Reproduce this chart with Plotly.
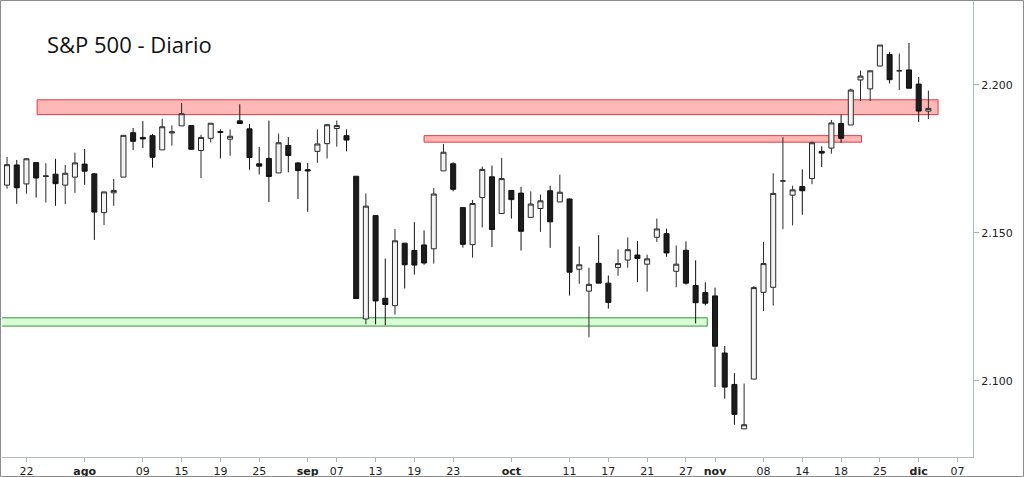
import pandas as pd
import plotly.graph_objects as go

# ---- Data -------------------------------------------------------------
holidays = ["2016-09-05", "2016-11-24"]
calendar = [d for d in pd.bdate_range("2016-07-20", "2016-12-09").strftime("%Y-%m-%d") if d not in holidays]

open_ = [2166.1, 2172.9, 2166.5, 2173.7, 2169.0, 2169.8, 2166.1, 2168.8, 2173.2, 2169.9,
         2156.8, 2163.5, 2168.8, 2183.8, 2182.2, 2182.8, 2178.0, 2183.7, 2186.1, 2186.2,
         2177.8, 2181.9, 2184.2, 2181.6, 2187.8, 2185.1, 2173.3, 2175.1, 2170.2, 2179.5,
         2173.6, 2171.3, 2177.5, 2180.1, 2185.2, 2182.8, 2169.1, 2120.9, 2155.8, 2127.9,
         2125.4, 2146.5, 2144.0, 2145.9, 2144.6, 2170.9, 2173.3, 2158.5, 2146.0, 2161.9,
         2168.9, 2156.5, 2164.3, 2163.4, 2155.2, 2158.2, 2164.2, 2160.4, 2161.4, 2137.7,
         2130.3, 2139.7, 2133.0, 2138.3, 2140.8, 2142.5, 2139.4, 2148.5, 2149.7, 2137.0,
         2144.1, 2132.2, 2129.8, 2128.7, 2109.4, 2098.8, 2083.8, 2100.6, 2129.9, 2131.6,
         2167.5, 2162.7, 2165.6, 2168.3, 2177.5, 2178.6, 2186.9, 2186.4, 2201.6, 2198.6,
         2206.3, 2210.2, 2204.7, 2205.0, 2200.2, 2191.1]
high = [2175.6, 2174.6, 2175.1, 2173.7, 2173.5, 2175.0, 2172.9, 2177.1, 2178.3, 2170.2,
        2163.8, 2168.2, 2182.9, 2185.4, 2187.7, 2183.4, 2188.5, 2186.3, 2193.8, 2186.2,
        2183.1, 2187.0, 2185.0, 2184.9, 2193.4, 2186.7, 2179.0, 2187.9, 2183.5, 2182.3,
        2173.8, 2173.6, 2184.9, 2186.6, 2187.9, 2184.9, 2169.1, 2163.3, 2155.8, 2141.3,
        2151.3, 2146.5, 2153.6, 2150.8, 2165.1, 2180.0, 2173.8, 2158.5, 2161.1, 2172.4,
        2172.7, 2175.3, 2164.4, 2165.5, 2164.0, 2162.9, 2165.9, 2169.6, 2161.6, 2145.4,
        2138.2, 2149.2, 2135.6, 2144.4, 2148.4, 2147.2, 2142.6, 2154.8, 2151.4, 2145.7,
        2147.1, 2140.7, 2133.3, 2131.5, 2111.8, 2102.6, 2099.1, 2132.0, 2146.9, 2170.1,
        2182.3, 2165.9, 2171.4, 2180.8, 2179.2, 2188.1, 2189.9, 2198.7, 2204.8, 2204.7,
        2213.4, 2211.1, 2210.5, 2214.1, 2202.6, 2198.0]
low = [2164.9, 2159.8, 2163.2, 2161.9, 2160.2, 2159.1, 2159.7, 2163.5, 2166.2, 2147.6,
       2152.6, 2159.1, 2168.8, 2177.9, 2178.6, 2172.0, 2178.0, 2179.4, 2186.1, 2178.1,
       2168.5, 2180.5, 2175.1, 2176.0, 2186.8, 2171.3, 2169.7, 2160.4, 2170.2, 2170.4,
       2161.4, 2157.1, 2173.6, 2175.1, 2179.1, 2177.5, 2127.8, 2119.1, 2119.1, 2118.8,
       2122.4, 2131.2, 2135.9, 2139.2, 2139.6, 2170.9, 2164.0, 2145.0, 2141.6, 2151.8,
       2145.2, 2156.5, 2154.8, 2144.0, 2155.2, 2150.3, 2144.9, 2160.4, 2128.8, 2132.8,
       2114.7, 2133.0, 2124.4, 2135.5, 2138.2, 2133.4, 2130.1, 2146.9, 2141.9, 2131.6,
       2132.5, 2119.4, 2125.5, 2097.9, 2094.0, 2085.2, 2083.8, 2100.6, 2123.6, 2125.4,
       2151.2, 2152.5, 2156.1, 2166.4, 2172.2, 2176.7, 2180.4, 2186.4, 2194.5, 2194.5,
       2206.3, 2200.4, 2198.2, 2198.8, 2187.4, 2188.4]
close = [2173.0, 2165.2, 2175.0, 2168.5, 2169.2, 2166.6, 2170.1, 2173.6, 2170.8, 2157.0,
         2163.8, 2164.3, 2182.9, 2180.9, 2181.7, 2175.5, 2185.8, 2184.1, 2190.2, 2178.2,
         2182.2, 2187.0, 2183.9, 2182.6, 2186.9, 2175.4, 2172.5, 2169.0, 2180.4, 2176.1,
         2171.0, 2170.9, 2180.0, 2186.5, 2186.2, 2181.3, 2127.8, 2159.0, 2127.0, 2125.8,
         2147.3, 2139.2, 2139.1, 2139.8, 2163.1, 2177.2, 2164.7, 2146.1, 2159.9, 2171.4,
         2151.1, 2168.3, 2161.2, 2150.5, 2159.7, 2160.8, 2153.7, 2163.7, 2136.7, 2139.2,
         2132.6, 2133.0, 2126.5, 2139.6, 2144.3, 2141.3, 2141.2, 2151.3, 2143.2, 2139.4,
         2133.0, 2126.4, 2126.2, 2111.7, 2097.9, 2088.7, 2085.2, 2131.5, 2139.6, 2163.3,
         2167.5, 2164.5, 2164.2, 2180.4, 2176.9, 2187.1, 2181.9, 2198.2, 2202.9, 2204.7,
         2213.4, 2201.7, 2204.7, 2198.8, 2191.1, 2192.0]

dates = calendar[:len(close)]

tick_dates = ["2016-07-22", "2016-08-01", "2016-08-09", "2016-08-15", "2016-08-19", "2016-08-25",
              "2016-09-01", "2016-09-07", "2016-09-13", "2016-09-19", "2016-09-23", "2016-10-03",
              "2016-10-11", "2016-10-17", "2016-10-21", "2016-10-27", "2016-11-01", "2016-11-08",
              "2016-11-14", "2016-11-18", "2016-11-25", "2016-12-01", "2016-12-07"]
tick_labels = ["22", "<b>ago</b>", "09", "15", "19", "25", "<b>sep</b>", "07", "13", "19", "23",
               "<b>oct</b>", "11", "17", "21", "27", "<b>nov</b>", "08", "14", "18", "25",
               "<b>dic</b>", "07"]

y_ticks = [2100, 2150, 2200]
y_tick_labels = ["2.100", "2.150", "2.200"]

# zones: (start index, end index, low price, high price, kind)
zone_start = [3.1, 43.0, -0.6]
zone_end = [96.0, 88.1, 72.2]
zone_low = [2189.9, 2180.6, 2118.5]
zone_high = [2194.9, 2182.8, 2121.3]
zone_kind = ["res", "res", "sup"]

# ---- Figure -----------------------------------------------------------
idx = list(range(len(dates)))
fig = go.Figure()
fig.add_trace(go.Candlestick(
    x=idx, open=open_, high=high, low=low, close=close,
    increasing=dict(line=dict(color="#2a2a2a", width=1), fillcolor="#f3f3f3"),
    decreasing=dict(line=dict(color="#111111", width=1), fillcolor="#1c1c1c"),
    whiskerwidth=0, showlegend=False, hoverinfo="skip",
    text=dates,
))

styles = {"res": ("#ffb8b8", "#e8383a"), "sup": ("#d8fbd8", "#2f9a2f")}
for x0, x1, y0, y1, k in zip(zone_start, zone_end, zone_low, zone_high, zone_kind):
    fc, lc = styles[k]
    fig.add_shape(type="rect", xref="x", yref="y", x0=x0, x1=x1, y0=y0, y1=y1,
                  fillcolor=fc, line=dict(color=lc, width=1), layer="below")

W, H = 1024, 477
ml, mr, mt, mb = 2, 51, 0, 20
pw, ph = W - ml - mr, H - mt - mb

# outer gray frame of the picture
fig.add_shape(type="rect", xref="paper", yref="paper",
              x0=(0.5 - ml) / pw, x1=(W - 0.5 - ml) / pw,
              y0=1 - (H - 0.5 - mt) / ph, y1=1 - (0.5 - mt) / ph,
              line=dict(color="#8c8c8c", width=1), fillcolor="rgba(0,0,0,0)", layer="above")

fig.add_annotation(text="S&P 500 - Diario", xref="paper", yref="paper",
                   x=(45 - ml) / pw, y=1 - (44 - mt) / ph, xanchor="left", yanchor="middle",
                   showarrow=False, font=dict(family="Open Sans", size=22, color="#111111"))

tick_idx = [calendar.index(d) for d in tick_dates]

fig.update_layout(
    width=W, height=H,
    margin=dict(l=ml, r=mr, t=mt, b=mb, pad=0),
    paper_bgcolor="white", plot_bgcolor="white",
    boxgap=0.26,
    xaxis=dict(range=[-0.52, 99.6], tickvals=tick_idx, ticktext=tick_labels,
               ticks="outside", ticklen=4, tickcolor="#a8b0b8", showgrid=False, zeroline=False,
               showline=True, linecolor="#b0b8c0", linewidth=1, rangeslider=dict(visible=False),
               tickfont=dict(family="DejaVu Sans", size=11, color="#222222")),
    yaxis=dict(range=[2074.3, 2228.6], side="right", tickvals=y_ticks, ticktext=y_tick_labels,
               ticks="outside", ticklen=5, tickcolor="#a8b0b8", showgrid=False, zeroline=False,
               showline=True, linecolor="#b0b8c0", linewidth=1,
               tickfont=dict(family="DejaVu Sans", size=11, color="#222222")),
)

fig.write_html("out.html")
